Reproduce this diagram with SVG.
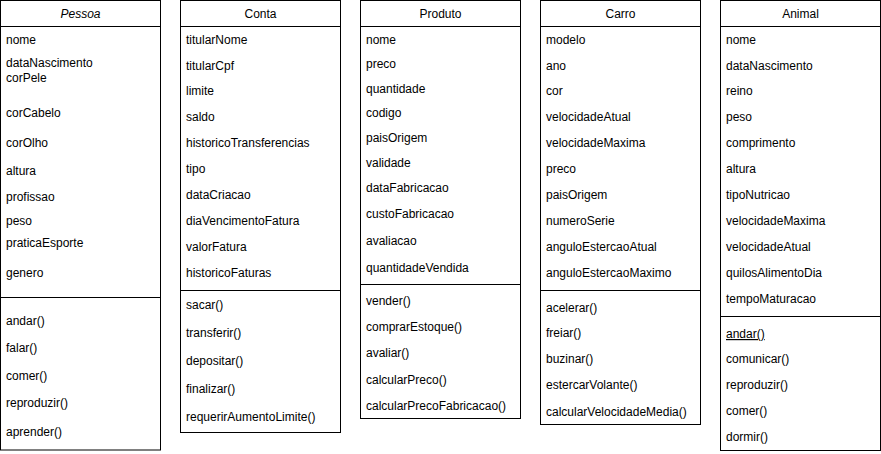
<svg xmlns="http://www.w3.org/2000/svg" width="881" height="454" viewBox="0 0 881 454">
<style>
rect.box{fill:#fff;stroke:#000;stroke-width:1}
line.sep{stroke:#000;stroke-width:1}
text{font-family:"Liberation Sans",Arial,Helvetica,sans-serif;font-size:12px;fill:#000}
text.title{text-anchor:middle}
</style>
<rect width="881" height="454" fill="#fff"/>
<g id="pessoa">
<rect class="box" x="0.5" y="0.5" width="160" height="449.5"/>
<line class="sep" x1="0.5" y1="26.5" x2="160.5" y2="26.5"/>
<line class="sep" x1="0.5" y1="297.5" x2="160.5" y2="297.5"/>
<text class="title" x="80.5" y="18" font-style="italic">Pessoa</text>
<text x="6" y="44">nome</text>
<text x="6" y="67">dataNascimento</text>
<text x="6" y="82">corPele</text>
<text x="6" y="117">corCabelo</text>
<text x="6" y="147">corOlho</text>
<text x="6" y="175">altura</text>
<text x="6" y="201">profissao</text>
<text x="6" y="225">peso</text>
<text x="6" y="247">praticaEsporte</text>
<text x="6" y="277">genero</text>
<text x="6" y="325">andar()</text>
<text x="6" y="352">falar()</text>
<text x="6" y="380">comer()</text>
<text x="6" y="407">reproduzir()</text>
<text x="6" y="436">aprender()</text>
</g>
<g id="conta">
<rect class="box" x="180.5" y="0.5" width="160" height="432"/>
<line class="sep" x1="180.5" y1="26.5" x2="340.5" y2="26.5"/>
<line class="sep" x1="180.5" y1="290.5" x2="340.5" y2="290.5"/>
<text class="title" x="260.5" y="18">Conta</text>
<text x="186" y="44">titularNome</text>
<text x="186" y="70">titularCpf</text>
<text x="186" y="95">limite</text>
<text x="186" y="121">saldo</text>
<text x="186" y="147">historicoTransferencias</text>
<text x="186" y="173">tipo</text>
<text x="186" y="199">dataCriacao</text>
<text x="186" y="225">diaVencimentoFatura</text>
<text x="186" y="251">valorFatura</text>
<text x="186" y="277">historicoFaturas</text>
<text x="186" y="309">sacar()</text>
<text x="186" y="337">transferir()</text>
<text x="186" y="365">depositar()</text>
<text x="186" y="393">finalizar()</text>
<text x="186" y="421">requerirAumentoLimite()</text>
</g>
<g id="produto">
<rect class="box" x="360.5" y="0.5" width="160" height="418"/>
<line class="sep" x1="360.5" y1="26.5" x2="520.5" y2="26.5"/>
<line class="sep" x1="360.5" y1="284.5" x2="520.5" y2="284.5"/>
<text class="title" x="440.5" y="18">Produto</text>
<text x="366" y="44">nome</text>
<text x="366" y="68">preco</text>
<text x="366" y="93">quantidade</text>
<text x="366" y="117">codigo</text>
<text x="366" y="142">paisOrigem</text>
<text x="366" y="167">validade</text>
<text x="366" y="192">dataFabricacao</text>
<text x="366" y="218">custoFabricacao</text>
<text x="366" y="245">avaliacao</text>
<text x="366" y="272">quantidadeVendida</text>
<text x="366" y="305">vender()</text>
<text x="366" y="331">comprarEstoque()</text>
<text x="366" y="357">avaliar()</text>
<text x="366" y="384">calcularPreco()</text>
<text x="366" y="410">calcularPrecoFabricacao()</text>
</g>
<g id="carro">
<rect class="box" x="540.5" y="0.5" width="160" height="424"/>
<line class="sep" x1="540.5" y1="26.5" x2="700.5" y2="26.5"/>
<line class="sep" x1="540.5" y1="290.5" x2="700.5" y2="290.5"/>
<text class="title" x="620.5" y="18">Carro</text>
<text x="546" y="44">modelo</text>
<text x="546" y="70">ano</text>
<text x="546" y="95">cor</text>
<text x="546" y="121">velocidadeAtual</text>
<text x="546" y="147">velocidadeMaxima</text>
<text x="546" y="173">preco</text>
<text x="546" y="199">paisOrigem</text>
<text x="546" y="225">numeroSerie</text>
<text x="546" y="251">anguloEstercaoAtual</text>
<text x="546" y="277">anguloEstercaoMaximo</text>
<text x="546" y="312">acelerar()</text>
<text x="546" y="337">freiar()</text>
<text x="546" y="363">buzinar()</text>
<text x="546" y="389">estercarVolante()</text>
<text x="546" y="416">calcularVelocidadeMedia()</text>
</g>
<g id="animal">
<rect class="box" x="720.5" y="0.5" width="160" height="450"/>
<line class="sep" x1="720.5" y1="26.5" x2="880.5" y2="26.5"/>
<line class="sep" x1="720.5" y1="316.5" x2="880.5" y2="316.5"/>
<text class="title" x="800.5" y="18">Animal</text>
<text x="726" y="44">nome</text>
<text x="726" y="70">dataNascimento</text>
<text x="726" y="95">reino</text>
<text x="726" y="121">peso</text>
<text x="726" y="147">comprimento</text>
<text x="726" y="173">altura</text>
<text x="726" y="199">tipoNutricao</text>
<text x="726" y="225">velocidadeMaxima</text>
<text x="726" y="251">velocidadeAtual</text>
<text x="726" y="277">quilosAlimentoDia</text>
<text x="726" y="303">tempoMaturacao</text>
<text x="726" y="338" text-decoration="underline">andar()</text>
<text x="726" y="363">comunicar()</text>
<text x="726" y="389">reproduzir()</text>
<text x="726" y="415">comer()</text>
<text x="726" y="441">dormir()</text>
</g>
<g id="connectors"></g>
</svg>
